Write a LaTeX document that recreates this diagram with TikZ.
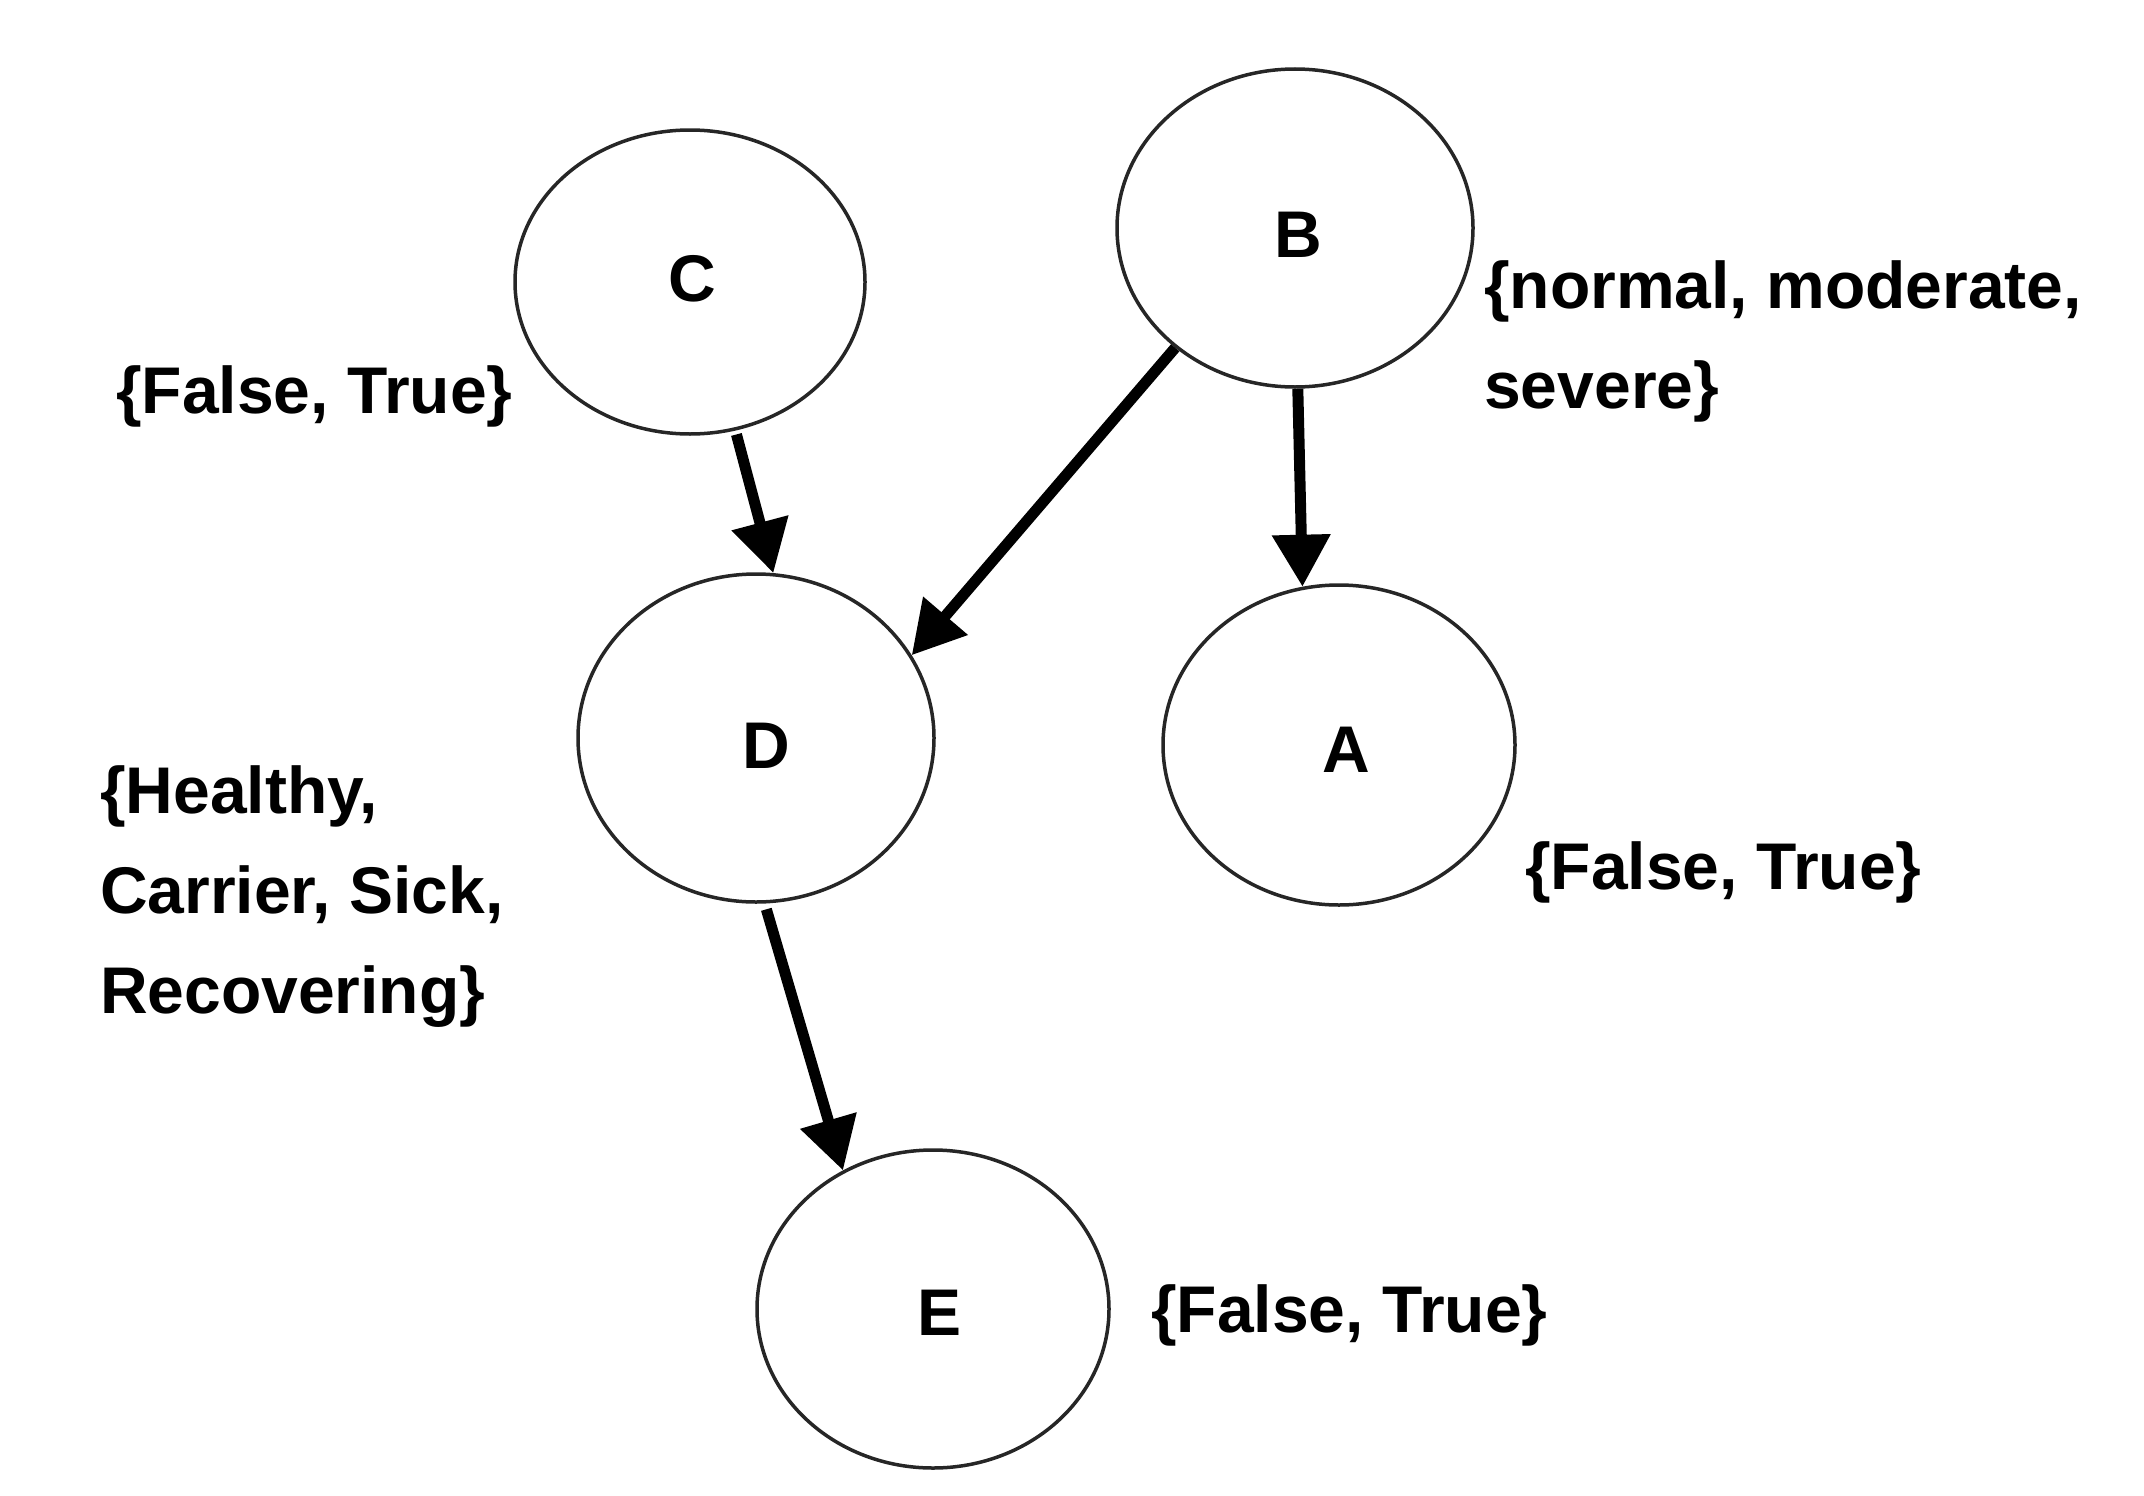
\documentclass[tikz,border=0pt]{standalone}
\usepackage{fontspec}
\setmainfont{Liberation Sans}
\usetikzlibrary{arrows.meta,shapes.geometric}
\newcommand\shiftlet[3]{\raisebox{-#2}[\height][\depth]{\hspace*{#1}#3}}
\begin{document}
\begin{tikzpicture}[x=1pt,y=-1pt,
  every node/.style={font=\bfseries\fontsize{66}{100}\selectfont},
  var/.style={ellipse,draw=black!85,line width=3.5pt,inner sep=0pt},
  lbl/.style={anchor=west,inner sep=0pt,align=left},
  arr/.style={line width=11pt,-{Triangle[width=56pt,length=52pt]}}]
\useasboundingbox (0,0) rectangle (2144,1496);
\node[var,minimum width=350pt,minimum height=304pt] (C) at (690,282) {\shiftlet{4pt}{-3pt}{C}};
\node[var,minimum width=356pt,minimum height=318pt] (B) at (1295,228) {\shiftlet{6pt}{7pt}{B}};
\node[var,minimum width=356pt,minimum height=328pt] (D) at (756,738) {\shiftlet{20pt}{8pt}{D}};
\node[var,minimum width=352pt,minimum height=320pt] (A) at (1339,745) {\shiftlet{14pt}{5pt}{A}};
\node[var,minimum width=352pt,minimum height=318pt] (E) at (933,1309) {\shiftlet{12pt}{4pt}{E}};
\node[lbl] (lC) at (116,396) {\{False, True\}};
\node[lbl] (lB) at (1484,341) {\{normal, moderate,\\severe\}};
\node[lbl] (lD) at (100,897) {\{Healthy,\\Carrier, Sick,\\Recovering\}};
\node[lbl] (lA) at (1525,872) {\{False, True\}};
\node[lbl] (lE) at (1151,1315) {\{False, True\}};
\draw[arr,shorten <=4pt] (C.-73) -- (D.84);
\draw[arr] (B.-135) -- (D.28);
\draw[arr] (B.-89) -- (A.103);
\draw[arr,shorten <=6pt] (D.-87) -- (E.123);
\end{tikzpicture}
\end{document}
